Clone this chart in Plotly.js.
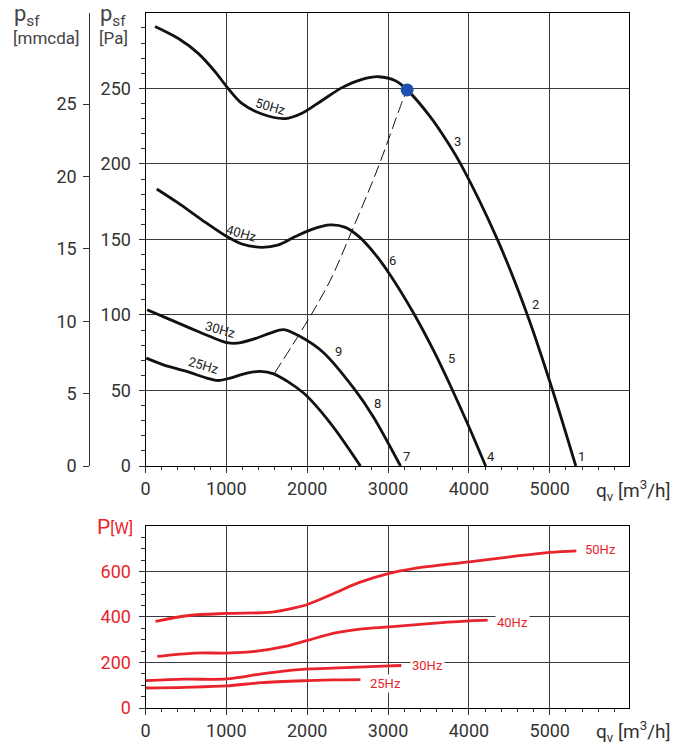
<!DOCTYPE html>
<html>
<head>
<meta charset="utf-8">
<script src="https://cdn.plot.ly/plotly-3.0.1.min.js"></script>
<style>html,body{margin:0;padding:0;background:#fff;}#chart{width:686px;height:744px;}</style>
</head>
<body>
<div id="chart"></div>
<script>
// ---- Pressure curves (q in m3/h, p in Pa) ----
const p50_q = [118, 407, 655, 861, 1006, 1192, 1440, 1729, 1935, 2183, 2431, 2679, 2885, 3092, 3236, 3525, 3733, 3897, 4352, 4723, 5033, 5322];
const p50_p = [291, 283, 273, 261, 251, 240, 233, 230, 233.5, 242, 250.5, 256, 257.7, 255, 249, 231, 214.7, 200, 150, 100, 50.5, 0];

const p40_q = [139, 407, 696, 1006, 1192, 1440, 1646, 1853, 2059, 2286, 2472, 2637, 2844, 3020, 3318, 3567, 3794, 4000, 4207];
const p40_p = [183.4, 174, 163, 151.9, 147, 144.8, 146.4, 151.9, 156.7, 159.6, 158, 152, 140, 127, 101, 76, 50.5, 26, 0];

const p30_q = [20, 262, 551, 799, 1006, 1130, 1336, 1543, 1708, 1914, 2203, 2575, 2815, 3154];
const p30_p = [103.4, 97.9, 91.3, 85.7, 81.7, 81.3, 84, 88, 90.3, 85.7, 75, 51.5, 32.8, 0];

const p25_q = [10, 221, 510, 758, 902, 1047, 1254, 1419, 1584, 1955, 2286, 2658];
const p25_p = [71.4, 67, 62.6, 58.2, 56.6, 58.2, 61.5, 62.6, 61, 48.3, 28.4, 0];

// system curve (dashed) and operating point
const sys_q = [1596, 1998, 2286, 2555, 2865, 3195, 3236];
const sys_p = [61.5, 95.6, 123, 156, 196, 244, 249];
const op_q = [3236];
const op_p = [249];

// ---- Power curves (W) ----
const w50_q = [124, 538, 1002, 1561, 1851, 2004, 2307, 2638, 3014, 3313, 4004, 4543, 5002, 5329];
const w50 = [381, 406.6, 415.5, 421, 440.7, 455, 499.6, 551, 592, 613, 642.5, 666, 684, 691];
const w40_q = [145, 609, 1002, 1354, 1727, 2004, 2348, 2680, 3014, 3507, 4004, 4232];
const w40 = [226.5, 241.6, 241.6, 248.7, 270.8, 297, 330, 347.8, 356.6, 371, 383, 386];
const w30_q = [0, 484, 1002, 1437, 1851, 2307, 3014, 3164];
const w30 = [120, 126.5, 127.9, 150, 167.7, 175, 185.4, 186.7];
const w25_q = [0, 484, 1002, 1437, 2004, 2307, 2658];
const w25 = [88, 91, 96.9, 111.5, 120.4, 123.5, 124.8];

// ---- Tick labels ----
const mmcdaTicks = [0, 5, 10, 15, 20, 25];

// ---- Labels ----
const hzLabels = ['50Hz', '40Hz', '30Hz', '25Hz'];
const topHzPos_q = [1543, 1192, 923, 716];
const topHzPos_p = [237.9, 154, 90.6, 66.3];
const numLabels = ['1', '2', '3', '4', '5', '6', '7', '8', '9'];
const numPos_q = [5397, 4818, 3856, 4269, 3786, 3058, 3228, 2865, 2389];
const numPos_p = [6, 106.7, 214.7, 6, 71.4, 135.8, 6.3, 41.7, 75.8];
const botHzPos_q = [5412, 4323, 3267, 2749];
const botHzPos_w = [695, 377, 185, 109];

const BLACK = '#111';
const RED = '#e8232b';
const GRID = '#3a3a3a';
const TXT = '#333';
const FONT = 'Roboto, "Noto Sans", sans-serif';

function pline(x, y) {
  return {x: x, y: y, xaxis: 'x', yaxis: 'y', mode: 'lines', type: 'scatter',
    line: {color: BLACK, width: 2.8, shape: 'spline', smoothing: 0.9}, hoverinfo: 'skip'};
}
function wline(x, y) {
  return {x: x, y: y, xaxis: 'x2', yaxis: 'y2', mode: 'lines', type: 'scatter',
    line: {color: RED, width: 2.8, shape: 'spline', smoothing: 0.9}, hoverinfo: 'skip'};
}

const traces = [
  pline(p50_q, p50_p), pline(p40_q, p40_p), pline(p30_q, p30_p), pline(p25_q, p25_p),
  {x: sys_q, y: sys_p, xaxis: 'x', yaxis: 'y', mode: 'lines', type: 'scatter',
   line: {color: BLACK, width: 1, dash: '12px,5px', shape: 'spline'}, hoverinfo: 'skip'},
  {x: op_q, y: op_p, xaxis: 'x', yaxis: 'y', mode: 'markers', type: 'scatter',
   marker: {color: '#1d4fae', size: 13}, hoverinfo: 'skip'},
  {x: [0], y: [0], xaxis: 'x', yaxis: 'y3', mode: 'markers', type: 'scatter',
   marker: {opacity: 0}, hoverinfo: 'skip'},
  wline(w50_q, w50), wline(w40_q, w40), wline(w30_q, w30), wline(w25_q, w25)
];

const annotations = [];
for (let i = 0; i < hzLabels.length; i++) {
  annotations.push({xref: 'x', yref: 'y', x: topHzPos_q[i], y: topHzPos_p[i], text: hzLabels[i],
    showarrow: false, textangle: 16, font: {family: FONT, size: 13, color: '#222'}});
}
for (let i = 0; i < numLabels.length; i++) {
  annotations.push({xref: 'x', yref: 'y', x: numPos_q[i], y: numPos_p[i], text: numLabels[i],
    showarrow: false, font: {family: FONT, size: 13, color: '#222'}});
}
for (let i = 0; i < hzLabels.length; i++) {
  annotations.push({xref: 'x2', yref: 'y2', x: botHzPos_q[i], y: botHzPos_w[i], text: hzLabels[i],
    xanchor: 'left', showarrow: false, bgcolor: '#fff', borderpad: 1,
    font: {family: FONT, size: 13, color: RED}});
}
// axis titles
annotations.push(
  {xref: 'paper', yref: 'paper', x: 12/686, y: 1 - 16/744, xanchor: 'left', yanchor: 'middle',
   text: 'p<sub>sf</sub>', showarrow: false, font: {family: FONT, size: 22, color: '#444'}},
  {xref: 'paper', yref: 'paper', x: 11/686, y: 1 - 37.5/744, xanchor: 'left', yanchor: 'middle',
   text: '[mmcda]', showarrow: false, font: {family: FONT, size: 17, color: '#444'}},
  {xref: 'paper', yref: 'paper', x: 98/686, y: 1 - 16/744, xanchor: 'left', yanchor: 'middle',
   text: 'p<sub>sf</sub>', showarrow: false, font: {family: FONT, size: 22, color: '#444'}},
  {xref: 'paper', yref: 'paper', x: 97/686, y: 1 - 37.5/744, xanchor: 'left', yanchor: 'middle',
   text: '[Pa]', showarrow: false, font: {family: FONT, size: 17, color: '#444'}},
  {xref: 'paper', yref: 'paper', x: 594/686, y: 1 - 490/744, xanchor: 'left', yanchor: 'middle',
   text: 'q<sub>v</sub> [m<sup>3</sup>/h]', showarrow: false, font: {family: FONT, size: 19, color: '#333'}},
  {xref: 'paper', yref: 'paper', x: 594/686, y: 1 - 731/744, xanchor: 'left', yanchor: 'middle',
   text: 'q<sub>v</sub> [m<sup>3</sup>/h]', showarrow: false, font: {family: FONT, size: 19, color: '#333'}},
  {xref: 'paper', yref: 'paper', x: 95/686, y: 1 - 527/744, xanchor: 'left', yanchor: 'middle',
   text: 'P<span style="font-size:16px">[W]</span>', showarrow: false, font: {family: FONT, size: 21, color: RED}}
);

const XD = [145.5/686, 629/686];
const XR = [0, 5980];
function xax(anchor) {
  return {domain: XD, range: XR, anchor: anchor, dtick: 1000, tick0: 0,
    ticks: 'outside', ticklen: 6, tickcolor: '#333', tickwidth: 1,
    minor: {dtick: 200, tick0: 0, ticklen: 3, ticks: 'outside', tickcolor: '#333', showgrid: false},
    showgrid: true, gridcolor: GRID, gridwidth: 1, zeroline: false,
    showline: true, linecolor: '#000', linewidth: 1, mirror: true,
    tickfont: {family: FONT, size: 18, color: TXT}, fixedrange: true};
}

const layout = {
  width: 686, height: 744, margin: {l: 0, r: 0, t: 0, b: 0}, showlegend: false,
  paper_bgcolor: '#fff', plot_bgcolor: '#fff', font: {family: FONT, color: TXT},
  xaxis: xax('y'),
  xaxis2: xax('y2'),
  yaxis: {domain: [1 - 466/744, 1 - 13/744], range: [0, 299.9], dtick: 50, tick0: 0,
    ticks: 'outside', ticklen: 6, tickcolor: '#333',
    minor: {dtick: 10, tick0: 0, ticklen: 4, ticks: 'outside', tickcolor: '#333', showgrid: false},
    showgrid: true, gridcolor: GRID, gridwidth: 1, zeroline: false,
    showline: true, linecolor: '#000', linewidth: 1, mirror: true, ticklabelstandoff: 4,
    tickfont: {family: FONT, size: 18, color: TXT}, fixedrange: true},
  yaxis3: {overlaying: 'y', anchor: 'free', position: 89.3/686, side: 'left',
    range: [0, 31.3], tickmode: 'array', tickvals: mmcdaTicks, ticks: 'outside', ticklen: 6, tickcolor: '#333',
    showgrid: false, zeroline: false, showline: true, linecolor: '#333', linewidth: 1,
    ticklabelstandoff: 3, tickfont: {family: FONT, size: 18, color: TXT}, fixedrange: true},
  yaxis2: {domain: [1 - 708/744, 1 - 526/744], range: [0, 799.9], dtick: 200, tick0: 0,
    ticks: 'outside', ticklen: 6, tickcolor: '#333',
    minor: {dtick: 50, tick0: 0, ticklen: 4, ticks: 'outside', tickcolor: '#333', showgrid: false},
    showgrid: true, gridcolor: GRID, gridwidth: 1, zeroline: false,
    showline: true, linecolor: '#000', linewidth: 1, mirror: true, ticklabelstandoff: 4,
    tickfont: {family: FONT, size: 18, color: RED}, fixedrange: true},
  annotations: annotations
};

Plotly.newPlot('chart', traces, layout, {staticPlot: true, displayModeBar: false});
</script>
</body>
</html>
